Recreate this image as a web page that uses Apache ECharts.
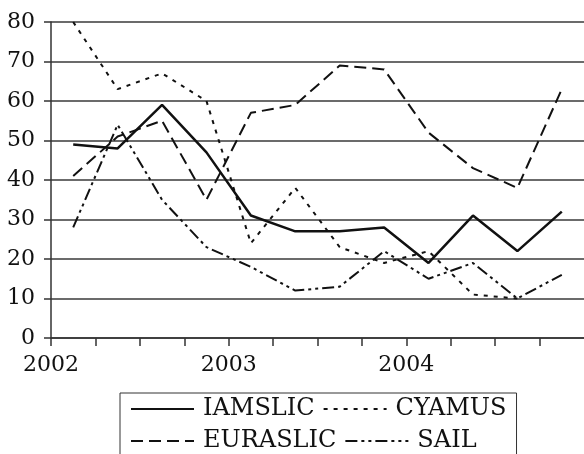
<!DOCTYPE html>
<html>
<head>
<meta charset="utf-8">
<script src="https://cdn.jsdelivr.net/npm/echarts@6/dist/echarts.min.js"></script>
<style>
  html, body { margin: 0; padding: 0; background: #fff; }
  #chart { width: 584px; height: 454px; }
</style>
</head>
<body>
<div id="chart"></div>
<script>
// quarterly values, 2002 Q1 .. 2004 Q4
var quarters = ["2002 Q1", "2002 Q2", "2002 Q3", "2002 Q4",
                "2003 Q1", "2003 Q2", "2003 Q3", "2003 Q4",
                "2004 Q1", "2004 Q2", "2004 Q3", "2004 Q4"];
var yearLabels = ["2002", "2003", "2004"];
var iamslic  = [49, 48, 59, 47, 31, 27, 27, 28, 19, 31, 22, 32];
var cyamus   = [80, 63, 67, 60, 24, 38, 23, 19, 22, 11, 10, null];
var euraslic = [41, 51, 55, 35, 57, 59, 69, 68, 52, 43, 38, 63];
var sail     = [28, 54, 35, 23, 18, 12, 13, 22, 15, 19, 10, 16];

var font = "DejaVu Serif";
var ink = "#111";

// each quarter sits in the middle of its slot on the x axis
function pts(vals) {
  return vals.map(function (v, i) { return [i + 0.5, v]; });
}

function line(name, vals, width, dash) {
  return {
    name: name,
    type: "line",
    data: pts(vals),
    symbol: "none",
    animation: false,
    itemStyle: { color: ink },
    lineStyle: { color: ink, width: width, type: dash }
  };
}

var chart = echarts.init(document.getElementById("chart"));
chart.setOption({
  backgroundColor: "#fff",
  grid: { left: 51, right: -4, top: 22, bottom: 116 },
  xAxis: {
    type: "value",
    min: 0,
    max: quarters.length,
    interval: 1,
    axisLine: { lineStyle: { color: "#333", width: 1.5 } },
    axisTick: { length: 8, lineStyle: { color: "#333", width: 1.5 } },
    splitLine: { show: false },
    axisLabel: {
      margin: 16,
      fontFamily: font,
      fontSize: 22,
      color: ink,
      showMaxLabel: false,
      formatter: function (v) {
        return v % 4 === 0 ? yearLabels[v / 4] : "";
      }
    }
  },
  yAxis: {
    type: "value",
    min: 0,
    max: 80,
    interval: 10,
    axisLine: { show: true, lineStyle: { color: "#333", width: 1.5 } },
    axisTick: { show: true, length: 7, lineStyle: { color: "#333", width: 1.5 } },
    splitLine: { lineStyle: { color: "#3a3a3a", width: 1.5 } },
    axisLabel: { margin: 16, fontFamily: font, fontSize: 22, color: ink }
  },
  legend: {
    left: 120,
    top: 393,
    width: 400,
    padding: [4, 10, 6, 10],
    borderColor: "#333",
    borderWidth: 1,
    itemWidth: 63,
    itemHeight: 14,
    itemGap: 8,
    itemStyle: { opacity: 0 },
    textStyle: {
      fontFamily: font,
      fontSize: 24,
      color: ink,
      padding: [0, 6, 0, 4]
    },
    data: ["IAMSLIC", "CYAMUS", "EURASLIC", "SAIL"]
  },
  series: [
    line("IAMSLIC", iamslic, 2.5, "solid"),
    line("CYAMUS", cyamus, 2, [4, 6]),
    line("EURASLIC", euraslic, 2, [12, 6]),
    line("SAIL", sail, 2, [12, 4, 3, 4, 3, 4])
  ]
});
</script>
</body>
</html>
